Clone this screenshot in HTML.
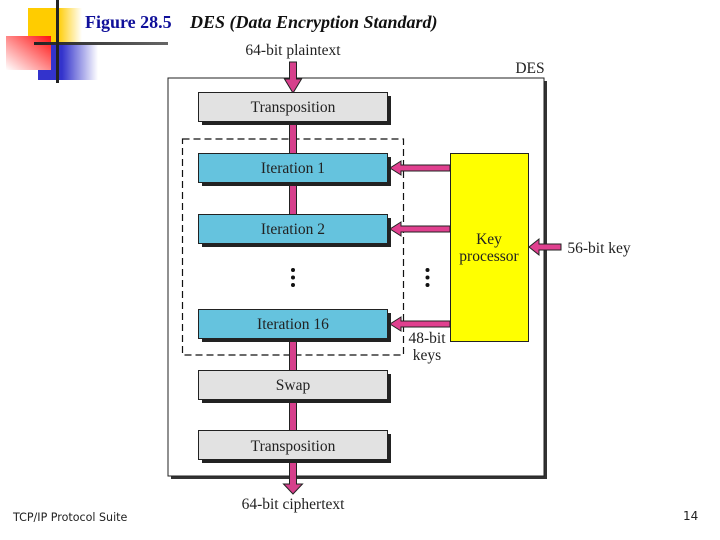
<!DOCTYPE html>
<html><head><meta charset="utf-8"><style>
html,body{margin:0;padding:0;background:#fff}
svg{display:block}
.t{font-family:"Liberation Serif",serif;font-size:15.5px;fill:#222;text-anchor:middle}
</style></head><body>
<svg width="720" height="540" viewBox="0 0 720 540" xmlns="http://www.w3.org/2000/svg">
<defs>
<linearGradient id="y" x1="0" x2="1" y1="0" y2="0"><stop offset="0.55" stop-color="#ffcc00"/><stop offset="1" stop-color="#ffcc00" stop-opacity="0"/></linearGradient>
<linearGradient id="b" x1="0" x2="1" y1="0" y2="0"><stop offset="0.4" stop-color="#3333cc"/><stop offset="1" stop-color="#3333cc" stop-opacity="0"/></linearGradient>
<linearGradient id="r" x1="1" x2="0" y1="0" y2="1"><stop offset="0" stop-color="#ff1111"/><stop offset="1" stop-color="#ffffff"/></linearGradient>
<linearGradient id="l" x1="0" x2="1" y1="0" y2="0"><stop offset="0" stop-color="#222"/><stop offset="1" stop-color="#666"/></linearGradient>
</defs>
<rect x="28" y="8" width="54" height="36" fill="url(#y)"/>
<rect x="38" y="44" width="60" height="36" fill="url(#b)"/>
<rect x="6" y="36" width="45" height="34" fill="url(#r)"/>
<rect x="34" y="42" width="134" height="3" fill="url(#l)"/>
<rect x="56" y="0" width="3" height="83" fill="#222"/>
<text x="85" y="28" style="font-family:'Liberation Serif',serif;font-weight:bold;font-size:18px;fill:#10109a">Figure 28.5</text>
<text x="190" y="28" style="font-family:'Liberation Serif',serif;font-weight:bold;font-style:italic;font-size:18px;fill:#111">DES (Data Encryption Standard)</text>

<rect x="171" y="81" width="376" height="398" fill="#333"/>
<rect x="168" y="78" width="376" height="398" fill="#fff" stroke="#222" stroke-width="1"/>
<text class="t" x="293" y="55">64-bit plaintext</text>
<text class="t" x="530" y="73">DES</text>

<rect x="182.500" y="139" width="221" height="216" fill="none" stroke="#111" stroke-width="1.200" stroke-dasharray="7 4"/>

<rect x="289.500" y="122" width="7" height="32" fill="#d6408c" stroke="#222"/>
<rect x="289.500" y="183" width="7" height="32" fill="#d6408c" stroke="#222"/>
<rect x="289.500" y="339" width="7" height="32" fill="#d6408c" stroke="#222"/>
<rect x="289.500" y="400" width="7" height="32" fill="#d6408c" stroke="#222"/>
<path d="M289.500 62h7v17h5l-8.500 14-8.500-14h5z" fill="#d6408c" stroke="#222"/>
<path d="M289.500 460h7v24h6l-9.500 10-9.500-10h6z" fill="#d6408c" stroke="#222"/>

<g stroke="#222">
<rect x="202" y="96" width="189" height="29" fill="#222" stroke="none"/>
<rect x="198.500" y="92.500" width="189" height="29" fill="#e2e2e2"/>
<rect x="202" y="157" width="189" height="29" fill="#222" stroke="none"/>
<rect x="198.500" y="153.500" width="189" height="29" fill="#65c3de"/>
<rect x="202" y="218" width="189" height="29" fill="#222" stroke="none"/>
<rect x="198.500" y="214.500" width="189" height="29" fill="#65c3de"/>
<rect x="202" y="313" width="189" height="29" fill="#222" stroke="none"/>
<rect x="198.500" y="309.500" width="189" height="29" fill="#65c3de"/>
<rect x="202" y="374" width="189" height="29" fill="#222" stroke="none"/>
<rect x="198.500" y="370.500" width="189" height="29" fill="#e2e2e2"/>
<rect x="202" y="434" width="189" height="29" fill="#222" stroke="none"/>
<rect x="198.500" y="430.500" width="189" height="29" fill="#e2e2e2"/>
</g>
<text class="t" x="293" y="112">Transposition</text>
<text class="t" x="293" y="173">Iteration 1</text>
<text class="t" x="293" y="234">Iteration 2</text>
<text class="t" x="293" y="329">Iteration 16</text>
<text class="t" x="293" y="390">Swap</text>
<text class="t" x="293" y="451">Transposition</text>

<rect x="450.500" y="153.500" width="78" height="188" fill="#ffff00" stroke="#222"/>
<g fill="#e0408f" stroke="#222">
<path d="M450 165h-49v-4l-11 7 11 7v-4h49z"/>
<path d="M450 226h-49v-4l-11 7 11 7v-4h49z"/>
<path d="M450 321h-49v-4l-11 7 11 7v-4h49z"/>
<path d="M561 244h-22v-5l-10 8 10 8v-5h22z"/>
</g>
<g fill="#111">
<circle cx="293" cy="270" r="2"/><circle cx="293" cy="277.500" r="2"/><circle cx="293" cy="285" r="2"/>
<circle cx="427.500" cy="270" r="2"/><circle cx="427.500" cy="277.500" r="2"/><circle cx="427.500" cy="285" r="2"/>
</g>
<text class="t" x="489" y="244">Key</text>
<text class="t" x="489" y="261">processor</text>
<text class="t" x="599" y="253">56-bit key</text>
<text class="t" x="427" y="343">48-bit</text>
<text class="t" x="427" y="360">keys</text>
<text class="t" x="293" y="509">64-bit ciphertext</text>
<text x="13" y="521" style="font-family:'DejaVu Sans',sans-serif;font-size:11.100px;fill:#222">TCP/IP Protocol Suite</text>
<text x="683" y="520" style="font-family:'DejaVu Sans',sans-serif;font-size:12px;fill:#222">14</text>
</svg>
</body></html>
